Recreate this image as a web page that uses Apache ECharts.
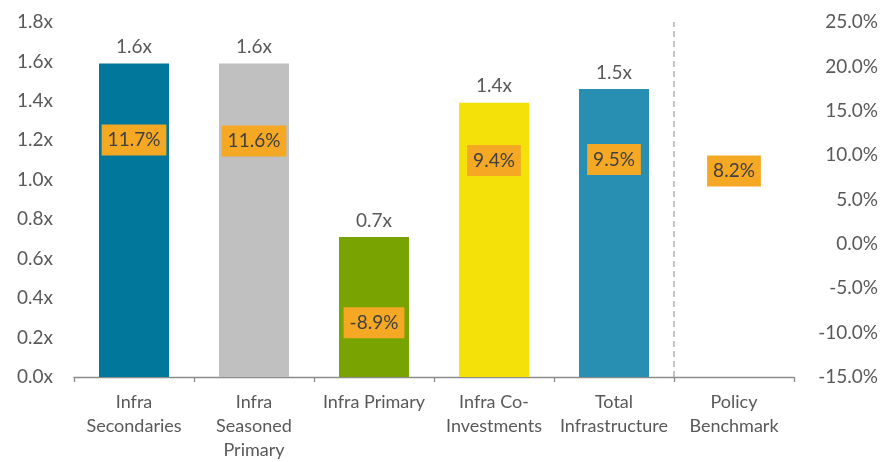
<!DOCTYPE html>
<html>
<head>
<meta charset="utf-8">
<script src="https://cdn.jsdelivr.net/npm/echarts@6/dist/echarts.min.js"></script>
<style>
html,body{margin:0;padding:0;background:#fff;}
#chart{width:883px;height:462px;}
</style>
</head>
<body>
<div id="chart"></div>
<script>
var categories = ['Infra\nSecondaries', 'Infra\nSeasoned\nPrimary', 'Infra Primary', 'Infra Co-\nInvestments', 'Total\nInfrastructure', 'Policy\nBenchmark'];
var multiples = [1.59, 1.59, 0.71, 1.39, 1.46, null];
var irr = [11.7, 11.6, -8.9, 9.4, 9.5, 8.2];
var barColors = ['#00779B', '#BFC0BF', '#78A300', '#F5E10A', '#288FB2', '#ffffff'];
var dividerX = [5, 5];
var dividerY = [0, 1.8];

var FONT = 'Lato';
var TXT = '#595959';

var chart = echarts.init(document.getElementById('chart'));
chart.setOption({
  animation: false,
  backgroundColor: '#ffffff',
  textStyle: { fontFamily: FONT },
  grid: { left: 74, right: 89, top: 22, bottom: 84 },
  xAxis: [{
    type: 'category',
    data: categories,
    axisLine: { show: true, lineStyle: { color: '#8C8C8C', width: 1.3 } },
    axisTick: { show: true, length: 5, lineStyle: { color: '#8C8C8C', width: 1.3 } },
    axisLabel: { interval: 0, color: TXT, fontFamily: FONT, fontSize: 18, lineHeight: 24, margin: 13 }
  }, {
    type: 'value', min: 0, max: 6, show: false
  }],
  yAxis: [{
    type: 'value', min: 0, max: 1.8, interval: 0.2,
    axisLine: { show: false }, axisTick: { show: false }, splitLine: { show: false },
    axisLabel: { color: TXT, fontFamily: FONT, fontSize: 19, margin: 21,
      formatter: function (v) { return v.toFixed(1) + 'x'; } }
  }, {
    type: 'value', min: -15, max: 25, interval: 5, position: 'right',
    axisLine: { show: false }, axisTick: { show: false }, splitLine: { show: false },
    axisLabel: { color: TXT, fontFamily: FONT, fontSize: 19, margin: 84, align: 'right',
      formatter: function (v) { return v.toFixed(1) + '%'; } }
  }],
  series: [{
    type: 'bar',
    xAxisIndex: 0, yAxisIndex: 0,
    barWidth: 70,
    data: multiples.map(function (v, i) { return { value: v, itemStyle: { color: barColors[i] } }; }),
    label: {
      show: true, position: 'top', distance: 7, color: TXT, fontFamily: FONT, fontSize: 19,
      formatter: function (p) { return p.value == null ? '' : p.value.toFixed(1) + 'x'; }
    }
  }, {
    type: 'line',
    xAxisIndex: 1, yAxisIndex: 0,
    data: [[dividerX[0], dividerY[0]], [dividerX[1], dividerY[1]]],
    symbol: 'none',
    lineStyle: { color: '#A6A6A6', width: 1.3, type: [6, 4] },
    silent: true
  }, {
    type: 'scatter',
    xAxisIndex: 0, yAxisIndex: 1,
    symbolSize: 0,
    data: irr,
    z: 5,
    itemStyle: { opacity: 1 },
    label: {
      show: true, position: 'inside', backgroundColor: '#F5A823', opacity: 1,
      padding: [6, 6], color: '#404040', fontFamily: FONT, fontSize: 19, lineHeight: 19,
      formatter: function (p) { return p.value.toFixed(1) + '%'; }
    }
  }]
});
</script>
</body>
</html>
